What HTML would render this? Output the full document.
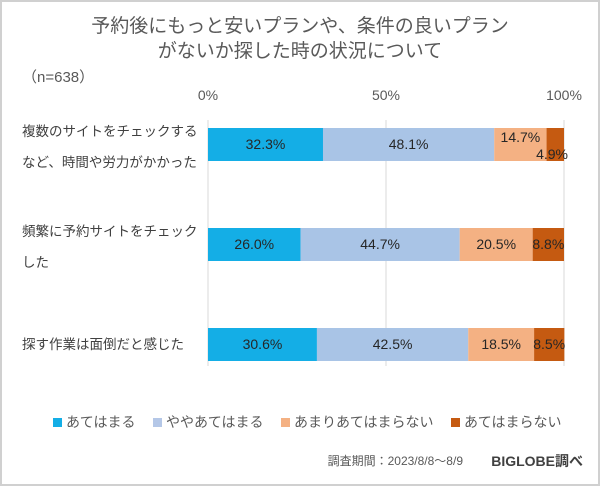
<!DOCTYPE html>
<html><head><meta charset="utf-8"><style>
body{margin:0;background:#fff}
#wrap{position:relative;width:600px;height:486px;overflow:hidden;font-family:"Liberation Sans","Noto Sans CJK JP",sans-serif}
</style></head><body>
<div id="wrap">
<svg id="chart" width="600" height="486" xmlns="http://www.w3.org/2000/svg">
<rect x="1" y="1" width="598" height="484" fill="#fff" stroke="#d0d0d0" stroke-width="2"/>
<text x="300" y="32" text-anchor="middle" font-size="19" fill="#595959">予約後にもっと安いプランや、条件の良いプラン</text>
<text x="300" y="57" text-anchor="middle" font-size="19" fill="#595959">がないか探した時の状況について</text>
<text x="22" y="82" font-size="15" fill="#595959">（n=638）</text>
<g id="grid"></g><g id="bars"></g><g id="cats"></g>
<g font-size="14" fill="#595959">
<rect x="53" y="418" width="9" height="9" fill="#14aee6"/><text x="66" y="427">あてはまる</text>
<rect x="153" y="418" width="9" height="9" fill="#b4c7e7"/><text x="166" y="427">ややあてはまる</text>
<rect x="281" y="418" width="9" height="9" fill="#f4b183"/><text x="294" y="427">あまりあてはまらない</text>
<rect x="451" y="418" width="9" height="9" fill="#c55a11"/><text x="464" y="427">あてはまらない</text>
</g>
<text x="463" y="465" text-anchor="end" font-size="12" fill="#595959">調査期間：2023/8/8～8/9</text>
<text x="583" y="466" text-anchor="end" font-size="14" font-weight="bold" fill="#404040">BIGLOBE調べ</text>
</svg>
</div>
<script>
const categories=[["複数のサイトをチェックする","など、時間や労力がかかった"],["頻繁に予約サイトをチェック","した"],["探す作業は面倒だと感じた"]];
const s1=[32.3,26.0,30.6];
const s2=[48.1,44.7,42.5];
const s3=[14.7,20.5,18.5];
const s4=[4.9,8.8,8.5];
const ticks=[0,50,100];
const colors=["#14aee6","#a9c4e6","#f4b183","#c55a11"];
const NS="http://www.w3.org/2000/svg";
const x=v=>208+v*3.56;
const yc=i=>144+i*100;
function mk(t,a,p){const e=document.createElementNS(NS,t);for(const k in a)e.setAttribute(k,a[k]);p.appendChild(e);return e;}
const grid=document.getElementById('grid'),bars=document.getElementById('bars'),cats=document.getElementById('cats');
ticks.forEach(t=>{
 const l=mk('line',{x1:x(t),x2:x(t),y1:120,y2:366,stroke:'#d9d9d9','stroke-width':1},grid);
 
 
 const tx=mk('text',{x:x(t),y:100,'text-anchor':'middle','font-size':14,fill:'#595959'},grid);
 tx.textContent=t+'%';
 
 
});
const series=[s1,s2,s3,s4];
categories.forEach((c,i)=>{
 let acc=0;
 series.forEach((s,j)=>{
  const v=s[i];
  const r=mk('rect',{x:x(acc),y:yc(i)-16,width:v*3.56,height:33,fill:colors[j]},bars);
  
  
  let lx=x(acc+v/2),ly=yc(i)+5,anchor='middle';
  if(i===0&&j===2){ly=yc(i)-2;}
  if(i===0&&j===3){lx=x(100)+4;ly=yc(i)+15;anchor='end';}
  const t=mk('text',{x:lx,y:ly,'text-anchor':anchor,'font-size':14,fill:'#262626'},bars);
  t.textContent=v.toFixed(1)+'%';
  
  
  acc+=v;
 });
 c.forEach((line,k)=>{
  const yy=c.length===1?yc(i)+5:yc(i)-8+k*31;
  const t=mk('text',{x:22,y:yy,'font-size':13.5,fill:'#404040'},cats);
  t.textContent=line;
  
  
 });
});
</script>
</body></html>
